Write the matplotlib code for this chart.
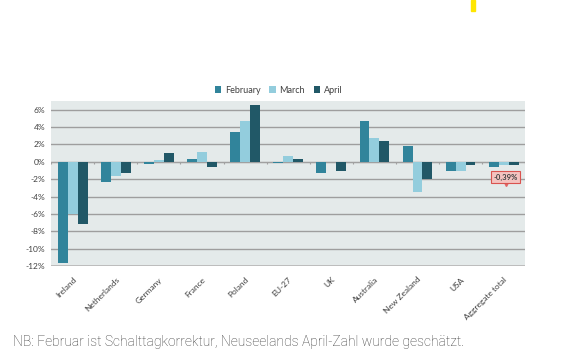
import numpy as np
import matplotlib
matplotlib.use("Agg")
import matplotlib.pyplot as plt
from matplotlib.ticker import FuncFormatter

C_FEB = "#31849b"
C_MAR = "#93cddd"
C_APR = "#215867"
C_BG = "#e4eaea"

categories = ["Ireland", "Netherlands", "Germany", "France", "Poland", "EU-27", "UK",
              "Australia", "New Zealand", "USA", "Aggregate total"]
feb = [-11.7, -2.3, -0.2, 0.35, 3.4, -0.1, -1.25, 4.7, 1.8, -1.05, -0.55]
mar = [-6.0, -1.65, 0.25, 1.1, 4.7, 0.7, 0.0, 2.75, -3.45, -1.0, -0.4]
apr = [-7.15, -1.3, 1.0, -0.55, 6.5, 0.35, -1.05, 2.35, -2.0, -0.35, -0.39]
yticks = [-12, -10, -8, -6, -4, -2, 0, 2, 4, 6]
agg_label = "-0,39%"
note = "NB: Februar ist Schalttagkorrektur, Neuseelands April-Zahl wurde geschätzt."

plt.rcParams["font.family"] = ["Lato", "DejaVu Sans"]

fig = plt.figure(figsize=(5.81, 3.61), dpi=100)
ax = fig.add_axes([0.088, 0.263, 0.816, 0.457])
ax.set_facecolor(C_BG)

x = np.arange(len(categories))
w = 0.23
ax.bar(x - w, feb, w, color=C_FEB, label="February", zorder=3)
ax.bar(x, mar, w, color=C_MAR, label="March", zorder=3)
ax.bar(x + w, apr, w, color=C_APR, label="April", zorder=3)

ax.set_xlim(-0.5, len(categories) - 0.5)
ax.set_ylim(-12, 7)
ax.set_yticks(yticks)
ax.yaxis.set_major_formatter(FuncFormatter(lambda v, p: f"{v:.0f}%"))
ax.tick_params(axis="y", length=0, labelsize=6, labelcolor="#404040", pad=4)
ax.grid(axis="y", color="#9e9e9e", lw=1.0, zorder=1)
for s in ax.spines.values():
    s.set_visible(False)
ax.axhline(-12, color="#b8b8b8", lw=1.2, zorder=2)

# category labels below the plot, boundary ticks on the zero line
ax.set_xticks(x)
ax.set_xticklabels(categories, rotation=45, ha="right", rotation_mode="anchor",
                   fontsize=6, color="#404040")
ax.tick_params(axis="x", length=0, pad=7)
ax.axhline(0, color="#a0a0a0", lw=0.8, zorder=2)
ax.vlines(np.arange(len(categories) + 1) - 0.5, -0.25, 0, color="#a0a0a0", lw=0.8, zorder=2)

leg = ax.legend(loc="lower center", bbox_to_anchor=(0.48, 1.0), ncol=3, frameon=False,
                fontsize=6.5, handlelength=0.7, handleheight=0.7, handletextpad=0.4,
                columnspacing=1.0, borderaxespad=0.3)
for t in leg.get_texts():
    t.set_color("#404040")

# callout for the aggregate April value
xa = x[-1] + 0.05
ax.plot(xa, -2.45, marker="v", ms=5, color="#e06666", zorder=5, clip_on=False)
ax.text(xa, -1.75, agg_label, ha="center", va="center", fontsize=5.5, fontweight="bold",
        color="#404040", zorder=6,
        bbox=dict(boxstyle="square,pad=0.3", fc="#f4c3c0", ec="#d9534f", lw=0.8))

fig.text(0.022, 0.042, note, fontsize=10, color="#383838", family="Roboto",
         fontweight="light")

# small yellow mark at the top
fig.patches.append(plt.Rectangle((0.8115, 0.97), 0.0055, 0.03, transform=fig.transFigure,
                                 color="#ffe600"))

fig.savefig("out.png", dpi=100)
